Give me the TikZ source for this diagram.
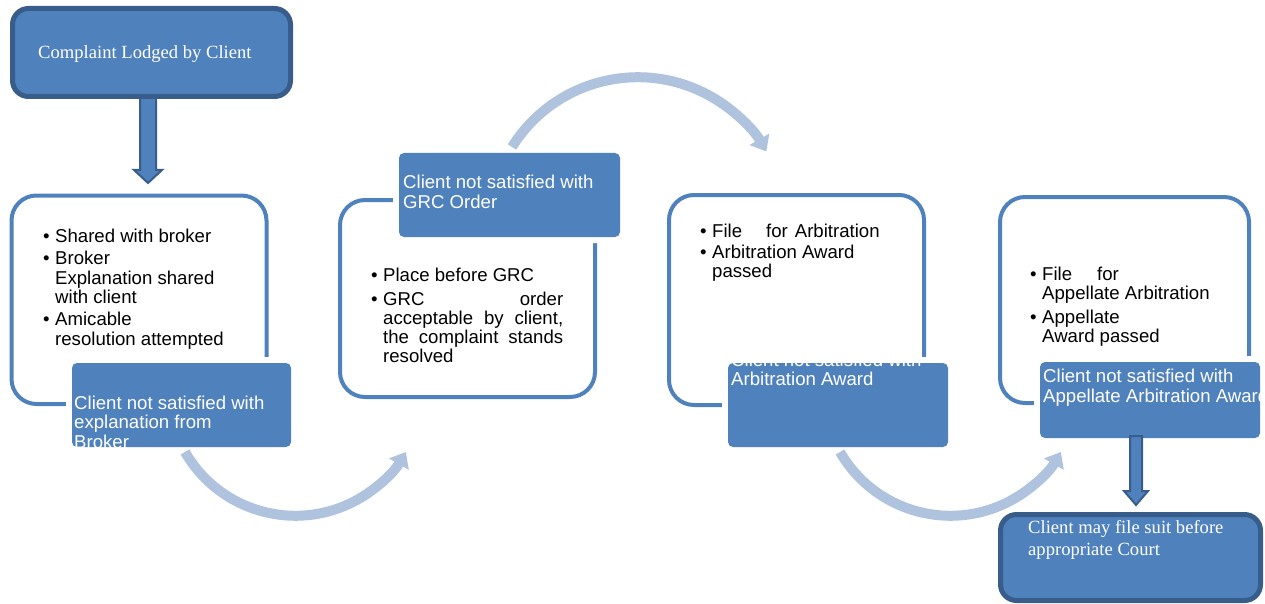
\documentclass[tikz,border=0pt]{standalone}
\usepackage{fontspec}
\setmainfont{Liberation Sans}
\newfontfamily\timesfont{Liberation Serif}
\usetikzlibrary{arrows.meta,calc}
\definecolor{boxblue}{HTML}{4F81BD}
\definecolor{edgeblue}{HTML}{385D8A}
\definecolor{paleblue}{HTML}{B0C3DE}
\newcommand{\bul}{\makebox[12pt][l]{•}}
\newcommand{\ind}{\hspace*{12pt}}
\tikzset{
  headbox/.style={draw=edgeblue, fill=boxblue, line width=5pt, rounded corners=16pt},
  stagebox/.style={draw=boxblue, line width=4pt, rounded corners=25pt},
  notebox/.style={fill=boxblue, rounded corners=5pt, preaction={draw=white, line width=12pt}},
  blockarrow/.style={draw=edgeblue, fill=boxblue, line width=2pt, line join=miter},
  bendarrow/.style={draw=paleblue, line width=10pt, -{Triangle[length=14pt,width=22pt]}},
  txt/.style={anchor=base west, inner sep=0pt, align=left, font=\fontsize{18.6}{19.5}\selectfont},
  wtxt/.style={txt, text=white},
}
\begin{document}
\begin{tikzpicture}[x=1pt, y=-1pt]
    \useasboundingbox (0,0) rectangle (1265,604);
    % complaint lodged
    \coordinate (sA) at (148,96);
    \coordinate (tA) at (148,183);
    \draw[blockarrow] ($(sA)+(-8,0)$) -- ($(tA)+(-8,-13)$) -- ($(tA)+(-14,-13)$) -- (tA)
        -- ($(tA)+(14,-13)$) -- ($(tA)+(8,-13)$) -- ($(sA)+(8,0)$) -- cycle;
    \node[headbox, minimum width=278, minimum height=88] (lodged) at (151.5,52.5) {};
    \node[wtxt, font=\timesfont\fontsize{18.6}{22}\selectfont] (lodgedtxt) at (38,59) {Complaint Lodged by Client};
    % stages (texts are placed by their last line)
    \node[stagebox, minimum width=255, minimum height=208.5] (b1) at (139,299.75) {};
    \node[stagebox, minimum width=255, minimum height=197] (b2) at (467.5,298.5) {};
    \node[stagebox, minimum width=255, minimum height=210] (b3) at (796.5,300) {};
    \node[stagebox, minimum width=249, minimum height=206] (b4) at (1124.5,300) {};
    \node[notebox, minimum width=219, minimum height=84] (f1) at (181.5,405) {};
    \node[notebox, minimum width=221, minimum height=84] (f2) at (509.5,195) {};
    \node[notebox, minimum width=220, minimum height=84] (f3) at (838,405) {};
    \node[notebox, minimum width=220, minimum height=76] (f4) at (1150,400) {};
    \begin{scope}
        \clip[rounded corners=5pt] (f1.south west) rectangle (f1.north east);
        \node[wtxt] (f1txt) at (74,448) {Client not satisfied with\\explanation from\\Broker};
    \end{scope}
    \node[wtxt] (f2txt) at (403,208) {Client not satisfied with\\GRC Order};
    \begin{scope}
        \clip[rounded corners=5pt] (f3.south west) rectangle (f3.north east);
        \node[wtxt, font=\fontsize{18.6}{19}\selectfont] (f3txt) at (731,385) {Client not satisfied with\\Arbitration Award};
    \end{scope}
    \begin{scope}
        \clip[rounded corners=5pt] (f4.south west) rectangle (f4.north east);
        \node[wtxt, font=\fontsize{18.6}{20}\selectfont] (f4txt) at (1043,402) {Client not satisfied with\\Appellate Arbitration Award};
    \end{scope}
    % lists
    \node[txt] (l1) at (43,345) {\bul Shared with broker\\[2.5pt]
        \bul Broker\\ \ind Explanation shared\\ \ind with client\\[2.5pt]
        \bul Amicable\\ \ind resolution attempted};
    \node[txt, font=\fontsize{18.6}{18.7}\selectfont] (l2) at (371,362) {\bul Place before GRC\\[5.3pt]
        \bul\makebox[180pt][s]{GRC order}\\
        \ind\makebox[180pt][s]{acceptable by client,}\\
        \ind\makebox[180pt][s]{the complaint stands}\\
        \ind resolved};
    \node[txt, font=\fontsize{18.6}{19}\selectfont] (l3) at (700,277) {\bul File\hspace{24pt}for\hspace{7pt}Arbitration\\[2pt]
        \bul Arbitration Award\\ \ind passed};
    \node[txt, font=\fontsize{18.6}{18.7}\selectfont] (l4) at (1030,342) {\bul File\hspace{25pt}for\\
        \ind Appellate Arbitration\\[5.3pt]
        \bul Appellate\\ \ind Award passed};
    % curved arrows
    \coordinate (a1) at (185,452);
    \coordinate (a2) at (512,147);
    \coordinate (a3) at (840,452);
    \draw[bendarrow] (a1) arc[start angle=150, end angle=30, radius=127.5];
    \draw[bendarrow] (a2) arc[start angle=212, end angle=330, radius=148.4];
    \draw[bendarrow] (a3) arc[start angle=150, end angle=30, radius=127.5];
    % court
    \coordinate (sB) at (1136,436);
    \coordinate (tB) at (1136,505);
    \draw[blockarrow] ($(sB)+(-6,0)$) -- ($(tB)+(-6,-14)$) -- ($(tB)+(-12,-14)$) -- (tB)
        -- ($(tB)+(12,-14)$) -- ($(tB)+(6,-14)$) -- ($(sB)+(6,0)$) -- cycle;
    \node[headbox, minimum width=260, minimum height=86] (court) at (1130.5,557.5) {};
    \node[wtxt, font=\timesfont\fontsize{18.6}{22}\selectfont] (courttxt) at (1028,555) {Client may file suit before\\appropriate Court};
\end{tikzpicture}
\end{document}
